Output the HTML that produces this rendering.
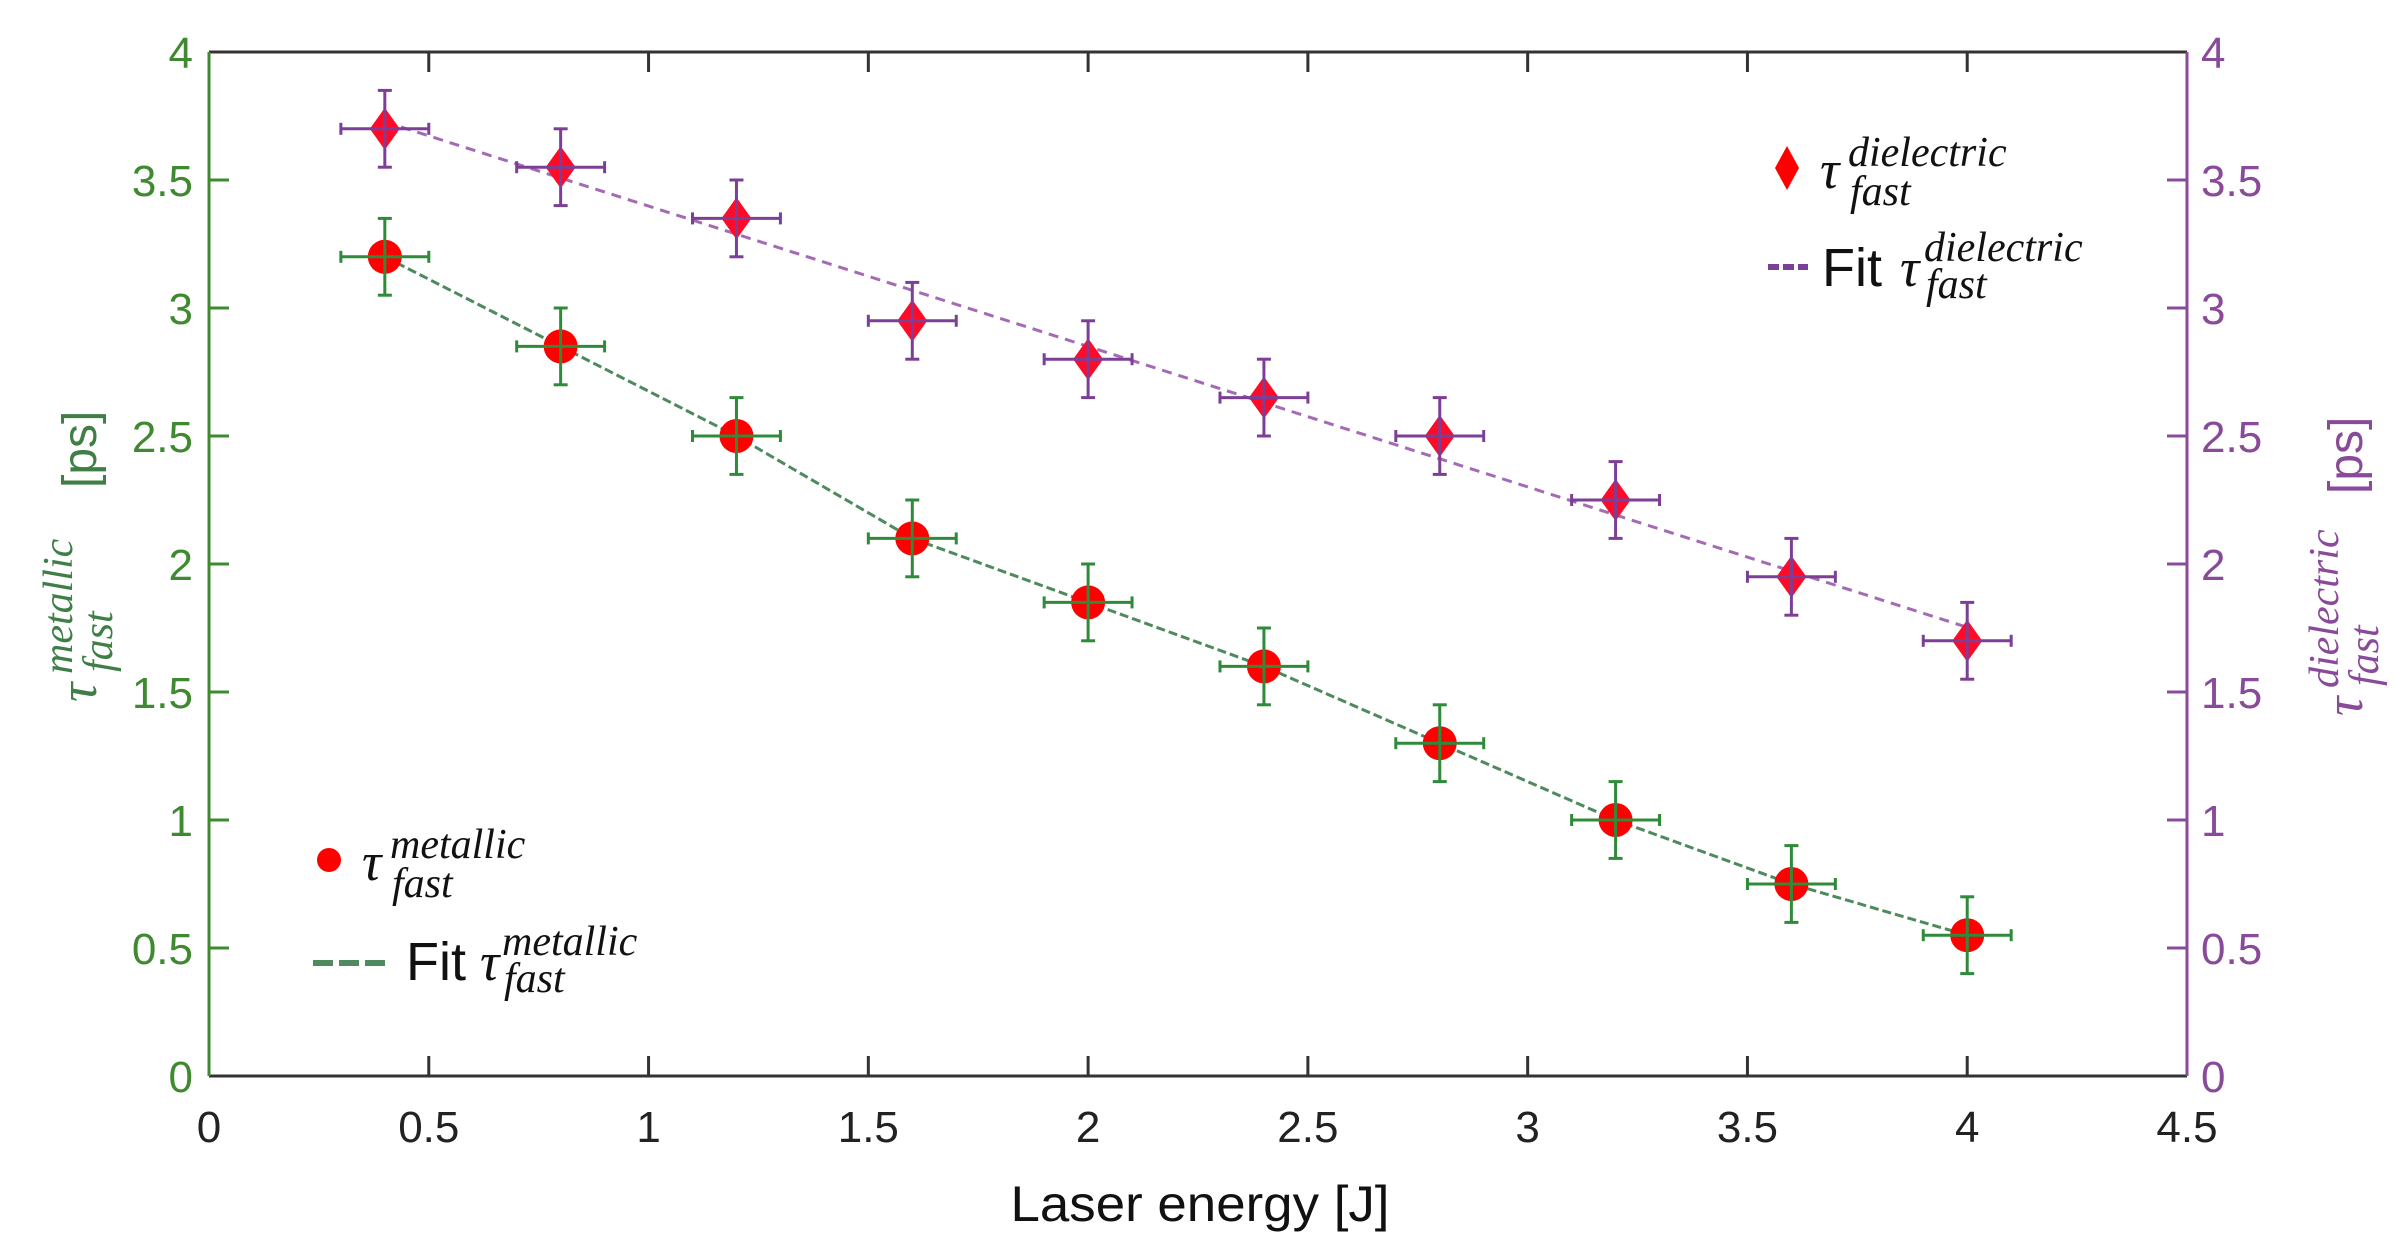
<!DOCTYPE html>
<html><head><meta charset="utf-8"><style>
html,body{margin:0;padding:0;background:#fff;}
svg{display:block;}
text{font-family:"Liberation Sans",sans-serif;}
.m{font-family:"Liberation Serif","DejaVu Serif",serif;font-style:italic;}
</style></head><body>
<svg id="chart" width="2395" height="1256" viewBox="0 0 2395 1256" xmlns="http://www.w3.org/2000/svg">
<rect x="0" y="0" width="2395" height="1256" fill="#fff"/>
<g id="fits"></g>
<g id="marks"></g>
<g id="axes"></g>

<text x="1200" y="1221" font-size="50" text-anchor="middle" textLength="379" lengthAdjust="spacingAndGlyphs" fill="#111">Laser energy [J]</text>

<g transform="translate(96,702) rotate(-90)" fill="#3f7f46">
<text class="m" x="0" y="0" font-size="54">τ</text>
<text class="m" x="28" y="-24" font-size="42">metallic</text>
<text class="m" x="30" y="16" font-size="42">fast</text>
<text x="214" y="0" font-size="48">[ps]</text>
</g>

<g transform="translate(2362,716) rotate(-90)" fill="#8a4a9a">
<text class="m" x="0" y="0" font-size="54">τ</text>
<text class="m" x="28" y="-24" font-size="42">dielectric</text>
<text class="m" x="30" y="16" font-size="42">fast</text>
<text x="222" y="0" font-size="48">[ps]</text>
</g>

<g>
<circle cx="329" cy="860" r="12" fill="#ff0000"/>
<text fill="#111"><tspan class="m" x="362" y="880" font-size="54">τ</tspan><tspan class="m" x="390" y="858" font-size="42">metallic</tspan><tspan class="m" x="392" y="897" font-size="42">fast</tspan></text>
<line x1="313" y1="963" x2="388" y2="963" stroke="#4e8a5e" stroke-width="6" stroke-dasharray="20,6"/>
<text fill="#111"><tspan x="406" y="980" font-size="54">Fit</tspan><tspan class="m" x="480" y="980" font-size="54">τ</tspan><tspan class="m" x="502" y="955" font-size="42">metallic</tspan><tspan class="m" x="504" y="992" font-size="42">fast</tspan></text>
</g>

<g>
<polygon points="1787,146 1799,168 1787,190 1775,168" fill="#ff0000"/>
<text fill="#111"><tspan class="m" x="1820" y="188" font-size="54">τ</tspan><tspan class="m" x="1848" y="166" font-size="42">dielectric</tspan><tspan class="m" x="1850" y="205" font-size="42">fast</tspan></text>
<line x1="1768" y1="267" x2="1808" y2="267" stroke="#7a3f96" stroke-width="6" stroke-dasharray="11,4"/>
<text fill="#111"><tspan x="1822" y="286" font-size="54">Fit</tspan><tspan class="m" x="1900" y="286" font-size="54">τ</tspan><tspan class="m" x="1924" y="261" font-size="42">dielectric</tspan><tspan class="m" x="1926" y="298" font-size="42">fast</tspan></text>
</g>
</svg>
<script>
const energies=[0.4,0.8,1.2,1.6,2.0,2.4,2.8,3.2,3.6,4.0];
const metallic=[3.2,2.85,2.5,2.1,1.85,1.6,1.3,1.0,0.75,0.55];
const dielectric=[3.7,3.55,3.35,2.95,2.8,2.65,2.5,2.25,1.95,1.7];
const yErr=0.15;
const xErr=0.1;
const xTicks=[0,0.5,1,1.5,2,2.5,3,3.5,4,4.5];
const xTickLabels=["0","0.5","1","1.5","2","2.5","3","3.5","4","4.5"];
const yTicks=[0,0.5,1,1.5,2,2.5,3,3.5,4];
const yTickLabels=["0","0.5","1","1.5","2","2.5","3","3.5","4"];

const PL=209,PR=2187,PT=52,PB=1076,XMAX=4.5,YMAX=4;
const sx=v=>PL+(v/XMAX)*(PR-PL);
const sy=v=>PB-(v/YMAX)*(PB-PT);
const NS="http://www.w3.org/2000/svg";
function mk(tag,attrs,parent){const e=document.createElementNS(NS,tag);for(const k in attrs)e.setAttribute(k,attrs[k]);parent.appendChild(e);return e;}
const axesG=document.getElementById('axes'),marksG=document.getElementById('marks'),fitsG=document.getElementById('fits');

function lsq(xs,ys){const n=xs.length;let mx=0,my=0;for(let i=0;i<n;i++){mx+=xs[i];my+=ys[i];}mx/=n;my/=n;let a=0,b=0;for(let i=0;i<n;i++){a+=(xs[i]-mx)*(ys[i]-my);b+=(xs[i]-mx)**2;}const s=a/b;return[s,my-s*mx];}

// metallic fit: follows the points
const mPath=mk('polyline',{points:energies.map((x,i)=>sx(x)+','+sy(metallic[i])).join(' '),fill:'none',stroke:'#4e8a5e','stroke-width':3,'stroke-dasharray':'9,4'},fitsG);


// dielectric fit: linear least squares
(function(){
  const [s,i0]=lsq(energies,dielectric);const x0=energies[0],x1=energies[energies.length-1];
  const ln=mk('line',{x1:sx(x0),y1:sy(s*x0+i0),x2:sx(x1),y2:sy(s*x1+i0),stroke:'#a36bb5','stroke-width':3,'stroke-dasharray':'10,7'},fitsG);
  
  
})();

function errbar(x,y,col,g){
  const w=3;
  const a=mk('line',{x1:sx(x),y1:sy(y-yErr),x2:sx(x),y2:sy(y+yErr),stroke:col,'stroke-width':w},g);
  
  
  [y-yErr,y+yErr].forEach(v=>{const c=mk('line',{x1:sx(x)-7,y1:sy(v),x2:sx(x)+7,y2:sy(v),stroke:col,'stroke-width':w},g);
    
    });
  const b=mk('line',{x1:sx(x-xErr),y1:sy(y),x2:sx(x+xErr),y2:sy(y),stroke:col,'stroke-width':w},g);
  
  
  [x-xErr,x+xErr].forEach(v=>{const c=mk('line',{x1:sx(v),y1:sy(y)-6,x2:sx(v),y2:sy(y)+6,stroke:col,'stroke-width':w},g);
    
    });
}
energies.forEach((x,i)=>{
  const g=mk('g',{},marksG);
  
  
  const y=dielectric[i],cx=sx(x),cy=sy(y);
  const p=mk('polygon',{points:`${cx},${cy-21} ${cx+15},${cy} ${cx},${cy+21} ${cx-15},${cy}`,fill:'#ff0a28'},g);
  
  
  errbar(x,y,'#7d3f96',g);
});
energies.forEach((x,i)=>{
  const g=mk('g',{},marksG);
  
  
  const y=metallic[i];
  const c=mk('circle',{cx:sx(x),cy:sy(y),r:17,fill:'#ff0000'},g);
  
  
  errbar(x,y,'#2f8a3a',g);
});

const topLine=mk('line',{x1:PL,y1:PT,x2:PR,y2:PT,stroke:'#333','stroke-width':3},axesG);


const botLine=mk('line',{x1:PL,y1:PB,x2:PR,y2:PB,stroke:'#333','stroke-width':3},axesG);


const lftLine=mk('line',{x1:PL,y1:PT,x2:PL,y2:PB,stroke:'#3f8a30','stroke-width':3},axesG);


const rgtLine=mk('line',{x1:PR,y1:PT,x2:PR,y2:PB,stroke:'#8a4a9a','stroke-width':3},axesG);



xTicks.forEach((v,i)=>{
  const x=sx(v);
  if(i>0&&i<xTicks.length-1){
    const t1=mk('line',{x1:x,y1:PB,x2:x,y2:PB-20,stroke:'#333','stroke-width':3},axesG);
    
    
    const t2=mk('line',{x1:x,y1:PT,x2:x,y2:PT+20,stroke:'#333','stroke-width':3},axesG);
    
    
  }
  const t=mk('text',{x:x,y:1142,'font-size':44,'text-anchor':'middle',fill:'#222'},axesG);
  t.textContent=xTickLabels[i];
  
  
});
yTicks.forEach((v,i)=>{
  const y=sy(v);
  if(i>0&&i<yTicks.length-1){
    const a=mk('line',{x1:PL,y1:y,x2:PL+20,y2:y,stroke:'#3f8a30','stroke-width':3},axesG);
    
    
    const b=mk('line',{x1:PR,y1:y,x2:PR-20,y2:y,stroke:'#8a4a9a','stroke-width':3},axesG);
    
    
  }
  const tl=mk('text',{x:PL-16,y:y+16,'font-size':44,'text-anchor':'end',fill:'#3f8a30'},axesG);
  tl.textContent=yTickLabels[i];
  
  
  const tr=mk('text',{x:PR+14,y:y+16,'font-size':44,'text-anchor':'start',fill:'#8a4a9a'},axesG);
  tr.textContent=yTickLabels[i];
  
  
});
</script>
</body></html>
